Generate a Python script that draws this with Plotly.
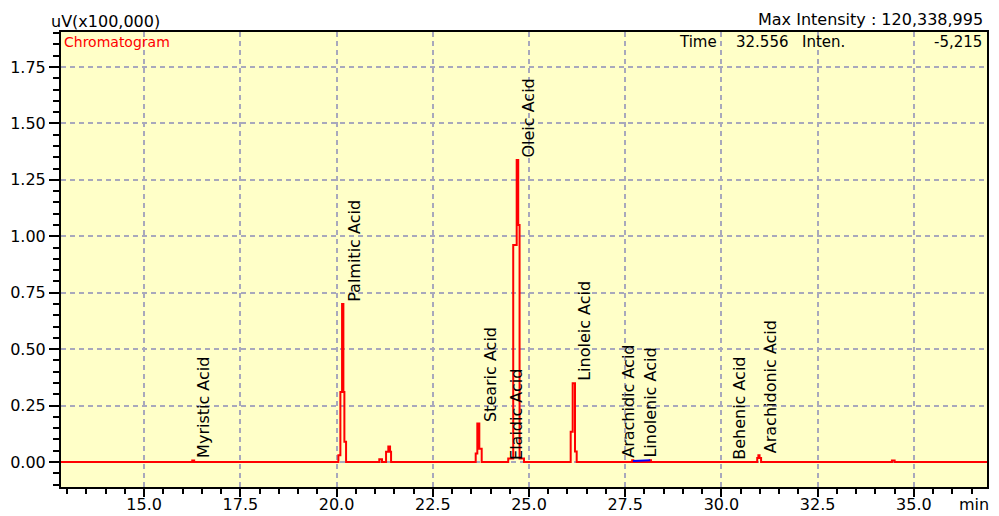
import plotly.graph_objects as go

# ---- chromatogram trace (retention time in min, intensity in uV x100,000), step-sampled
chrom_time = [12.84, 16.25, 16.30,
              20.047, 20.099, 20.143, 20.177, 20.203, 20.247,
              21.11, 21.18, 21.286, 21.345, 21.39, 21.416,
              23.615, 23.657, 23.709, 23.771,
              24.46, 24.59, 24.68, 24.72, 24.755, 24.87,
              26.083, 26.135, 26.195, 26.239,
              27.68, 27.71, 28.14, 28.17,
              30.93, 30.96, 30.99, 31.03,
              34.43, 34.50, 36.9]
chrom_inten = [0.0, 0.006, 0.0,
               0.03, 0.31, 0.70, 0.31, 0.09, 0.0,
               0.012, 0.0, 0.045, 0.068, 0.045, 0.0,
               0.037, 0.17, 0.059, 0.0,
               0.015, 0.961, 1.338, 1.05, 0.015, 0.0,
               0.134, 0.349, 0.046, 0.0,
               0.008, 0.0, 0.008, 0.0,
               0.018, 0.03, 0.018, 0.0,
               0.006, 0.0, 0.0]

# integration baseline marker (blue)
base_time = [27.70, 28.15]
base_inten = [0.004, 0.007]

# ---- peak identification
peak_names = ["Myristic Acid", "Palmitic Acid", "Stearic Acid", "Elaidic Acid",
              "Oleic Acid", "Linoleic Acid", "Arachidic Acid", "Linolenic Acid",
              "Behenic Acid", "Arachidonic Acid"]
peak_times = [16.25, 20.19, 23.70, 24.39, 24.69, 26.16, 27.29, 27.88, 30.18, 30.99]
peak_heights = [0.008, 0.70, 0.17, 0.0, 1.338, 0.349, 0.008, 0.01, 0.0, 0.03]

# ---- axis ticks
x_ticks = [15.0, 17.5, 20.0, 22.5, 25.0, 27.5, 30.0, 32.5, 35.0]
y_ticks = [0.00, 0.25, 0.50, 0.75, 1.00, 1.25, 1.50, 1.75]

# ---- header texts
y_unit = "uV(x100,000)"
max_intensity = "Max Intensity : 120,338,995"
cursor_time = "32.556"
cursor_inten = "-5,215"

W, H = 999, 516
ML, MR, MT, MB = 61, 12, 32, 29
PW, PH = W - ML - MR, H - MT - MB
FONT = "DejaVu Sans"


def px(x):
    return (x - ML) / PW


def py(y):
    return (H - MB - y) / PH


fig = go.Figure()
fig.add_trace(go.Scatter(x=chrom_time, y=chrom_inten, mode="lines",
                         line=dict(color="#FF0000", width=2, shape="hv"),
                         hoverinfo="skip"))
fig.add_trace(go.Scatter(x=base_time, y=base_inten, mode="lines",
                         line=dict(color="#0000FF", width=2),
                         hoverinfo="skip"))

annotations = []
for name, t, h in zip(peak_names, peak_times, peak_heights):
    annotations.append(dict(x=t, y=h, xref="x", yref="y", text=name,
                            textangle=-90, showarrow=False, xanchor="center",
                            yanchor="bottom", xshift=11,
                            font=dict(family=FONT, size=16, color="black")))


def label(text, x, y, anchor, size, color="black"):
    annotations.append(dict(x=px(x), y=py(y), xref="paper", yref="paper",
                            text=text, showarrow=False, xanchor=anchor,
                            yanchor="middle",
                            font=dict(family=FONT, size=size, color=color)))


label(y_unit, 49, 21, "left", 16)
label(max_intensity, 985, 19, "right", 16)
label("Chromatogram", 62, 42, "left", 14, "#FF0000")
label("Time", 719, 42, "right", 15)
label(cursor_time, 734, 42, "left", 15)
label("Inten.", 800, 42, "left", 15)
label(cursor_inten, 984, 42, "right", 15)
label("min", 957, 504, "left", 16)

grid = dict(showgrid=True, gridcolor="#A8A8BC", griddash="5px,4px", gridwidth=1.5,
            zeroline=False, showline=True, linecolor="black", linewidth=2,
            mirror=True, ticks="outside", tickcolor="black", tickwidth=1.5,
            automargin=False,
            tickfont=dict(family=FONT, size=16, color="black"))

fig.update_layout(
    width=W, height=H,
    margin=dict(l=ML, r=MR, t=MT, b=MB, autoexpand=False),
    paper_bgcolor="white", plot_bgcolor="#FFFFC8",
    showlegend=False,
    font=dict(family=FONT, size=16, color="black"),
    annotations=annotations,
    xaxis=dict(range=[12.84, 36.9], tickvals=x_ticks,
               ticktext=[f"{v:.1f}" for v in x_ticks], ticklen=8,
               ticklabelstandoff=-6,
               minor=dict(dtick=0.5, tick0=0, ticklen=5, ticks="outside",
                          tickcolor="black", tickwidth=1.5, showgrid=False),
               **grid),
    yaxis=dict(range=[-0.111, 1.905], tickvals=y_ticks,
               ticktext=[f"{v:.2f}" for v in y_ticks], ticklen=10,
               minor=dict(dtick=0.05, tick0=0, ticklen=6, ticks="outside",
                          tickcolor="black", tickwidth=1.5, showgrid=False),
               **grid),
)

fig.write_html("out.html")
